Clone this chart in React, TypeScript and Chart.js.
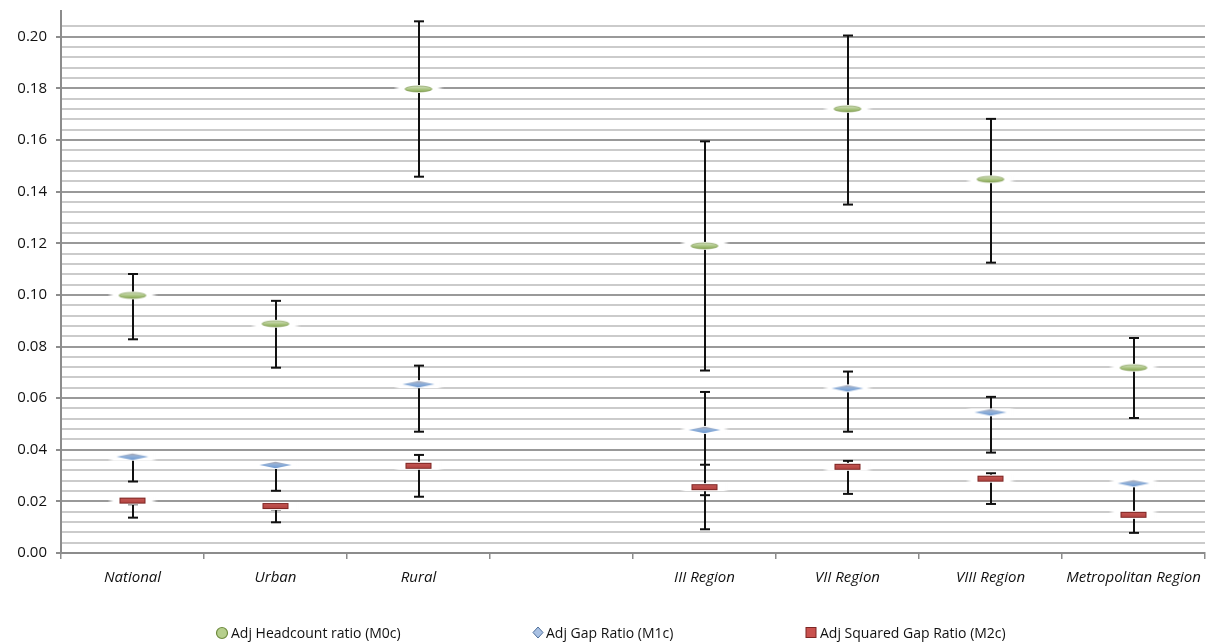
import React, { useEffect, useRef } from "react";
import { Chart, registerables } from "chart.js";

Chart.register(...registerables);

const categories = ["National", "Urban", "Rural", "", "III Region", "VII Region", "VIII Region", "Metropolitan Region"];

const m0 = [0.0998, 0.0888, 0.1798, null, 0.119, 0.1721, 0.1448, 0.0718];
const m0Low = [0.0828, 0.0718, 0.1458, null, 0.0707, 0.135, 0.1125, 0.0523];
const m0High = [0.1081, 0.0977, 0.206, null, 0.1595, 0.2005, 0.1682, 0.0833];

const m1 = [0.0373, 0.0341, 0.0654, null, 0.0477, 0.0638, 0.0545, 0.027];
const m1Low = [0.0277, 0.0241, 0.047, null, 0.0224, 0.047, 0.0389, 0.0148];
const m1High = [0.0373, 0.0341, 0.0726, null, 0.0624, 0.0703, 0.0605, 0.027];

const m2 = [0.0203, 0.0182, 0.0338, null, 0.0255, 0.0334, 0.0288, 0.0148];
const m2Low = [0.0137, 0.0119, 0.0218, null, 0.0092, 0.0229, 0.019, 0.0078];
const m2High = [0.0189, 0.0169, 0.038, null, 0.0342, 0.0357, 0.0309, 0.0148];

const seriesNames = ["Adj Headcount ratio (M0c)", "Adj Gap Ratio (M1c)", "Adj Squared Gap Ratio (M2c)"];

const FONT = "'Open Sans', 'DejaVu Sans', sans-serif";

function makeMarker(kind: string): HTMLCanvasElement {
  const c = document.createElement("canvas");
  const w = 50;
  const h = 12;
  c.width = w;
  c.height = h;
  const ctx = c.getContext("2d")!;
  const cx = w / 2;
  const cy = h / 2;
  const hg = ctx.createLinearGradient(0, 0, w, 0);
  hg.addColorStop(0, "rgba(255,255,255,0)");
  hg.addColorStop(0.12, "rgba(255,255,255,1)");
  hg.addColorStop(0.88, "rgba(255,255,255,1)");
  hg.addColorStop(1, "rgba(255,255,255,0)");
  ctx.fillStyle = hg;
  ctx.fillRect(0, cy - 4, w, 8);
  if (kind === "green") {
    ctx.beginPath();
    ctx.ellipse(cx, cy, 13.5, 3, 0, 0, Math.PI * 2);
    const g = ctx.createLinearGradient(0, cy - 3, 0, cy + 3);
    g.addColorStop(0, "#d4dfc2");
    g.addColorStop(0.5, "#adc785");
    g.addColorStop(1, "#86a552");
    ctx.fillStyle = g;
    ctx.fill();
    ctx.strokeStyle = "rgba(110,140,60,0.7)";
    ctx.lineWidth = 0.8;
    ctx.stroke();
  } else if (kind === "blue") {
    ctx.beginPath();
    ctx.moveTo(cx - 16, cy);
    ctx.lineTo(cx, cy - 3.2);
    ctx.lineTo(cx + 16, cy);
    ctx.lineTo(cx, cy + 3.2);
    ctx.closePath();
    const g = ctx.createLinearGradient(0, cy - 3, 0, cy + 3);
    g.addColorStop(0, "#a9a9b4");
    g.addColorStop(0.45, "#8fb0da");
    g.addColorStop(1, "#6e98cf");
    ctx.fillStyle = g;
    ctx.fill();
  } else {
    const g = ctx.createLinearGradient(0, cy - 3, 0, cy + 3);
    g.addColorStop(0, "#c65a57");
    g.addColorStop(1, "#b0403d");
    ctx.fillStyle = g;
    ctx.fillRect(cx - 13, cy - 3, 26, 6);
    ctx.strokeStyle = "#7d2624";
    ctx.lineWidth = 1;
    ctx.strokeRect(cx - 12.5, cy - 2.5, 25, 5);
  }
  return c;
}

const errorBarsPlugin = {
  id: "errorBars",
  beforeDatasetsDraw(chart: any) {
    const ctx = chart.ctx;
    const xs = chart.scales.x;
    const ys = chart.scales.y;
    const groups = [
      [m0, m0Low, m0High],
      [m1, m1Low, m1High],
      [m2, m2Low, m2High],
    ];
    ctx.save();
    ctx.strokeStyle = "#111111";
    ctx.lineWidth = 2;
    groups.forEach(([vals, lows, highs]) => {
      vals.forEach((v: any, i: number) => {
        if (v == null) return;
        const x = Math.round(xs.getPixelForValue(i));
        const lo = lows[i] as number;
        const hi = highs[i] as number;
        const top = ys.getPixelForValue(Math.max(hi, v));
        const bot = ys.getPixelForValue(Math.min(lo, v));
        ctx.beginPath();
        ctx.moveTo(x, top);
        ctx.lineTo(x, bot);
        ctx.stroke();
        [lo, hi].forEach((e) => {
          const y = ys.getPixelForValue(e);
          ctx.beginPath();
          ctx.moveTo(x - 5, y);
          ctx.lineTo(x + 5, y);
          ctx.stroke();
        });
      });
    });
    ctx.restore();
  },
};

function isMult(v: number, step: number) {
  const r = v / step;
  return Math.abs(r - Math.round(r)) < 1e-6;
}

export default function App() {
  const ref = useRef<HTMLCanvasElement>(null);
  useEffect(() => {
    const canvas = ref.current!;
    const markers = [makeMarker("green"), makeMarker("blue"), makeMarker("red")];
    const dataArrays = [m0, m1, m2];
    const chart = new Chart(canvas, {
      type: "line",
      data: {
        labels: categories,
        datasets: dataArrays.map((d, k) => ({
          label: seriesNames[k],
          data: d,
          showLine: false,
          pointStyle: markers[k],
          pointRadius: 6,
          pointHoverRadius: 6,
        })),
      },
      options: {
        responsive: false,
        animation: false,
        layout: { padding: { top: 11, right: 3, left: 0, bottom: 0 } },
        plugins: { legend: { display: false }, tooltip: { enabled: false } },
        scales: {
          x: {
            type: "category",
            offset: true,
            grid: {
              offset: true,
              drawOnChartArea: false,
              drawTicks: true,
              tickLength: 6,
              color: "#8c8c8c",
              lineWidth: 1.5,
            },
            border: { color: "#8c8c8c", width: 2 },
            ticks: {
              font: { family: FONT, size: 15, style: "italic" },
              color: "#111",
              padding: 10,
              maxRotation: 0,
              autoSkip: false,
            },
            afterFit: (s: any) => {
              s.height = 91;
              s.paddingLeft = 0;
              s.paddingRight = 0;
            },
          },
          y: {
            min: 0,
            max: 0.21,
            ticks: {
              stepSize: 0.004,
              autoSkip: false,
              padding: 9,
              color: "#111",
              font: { family: FONT, size: 15 },
              callback: (v: any) => (isMult(Number(v), 0.02) ? Number(v).toFixed(2) : ""),
            },
            grid: {
              lineWidth: 2,
              tickLength: 5,
              color: (c: any) => {
                const v = c.tick ? c.tick.value : 0;
                if (!isMult(v, 0.004)) return "rgba(0,0,0,0)";
                return isMult(v, 0.02) ? "#999999" : "#cbcbcb";
              },
              tickColor: (c: any) => {
                const v = c.tick ? c.tick.value : 0;
                return isMult(v, 0.02) ? "#8c8c8c" : "rgba(0,0,0,0)";
              },
            },
            border: { color: "#8c8c8c", width: 2 },
            afterFit: (s: any) => {
              s.width = 61;
              s.paddingTop = 0;
              s.paddingBottom = 0;
            },
          },
        },
      },
      plugins: [errorBarsPlugin],
    } as any);
    return () => chart.destroy();
  }, []);

  const legendText: React.CSSProperties = {
    position: "absolute",
    top: 623,
    fontFamily: FONT,
    fontSize: 14,
    color: "#111",
    whiteSpace: "nowrap",
    lineHeight: "20px",
  };

  return (
    <div style={{ position: "absolute", left: 0, top: 0, width: 1212, height: 644, background: "#fff" }}>
      <canvas ref={ref} width={1212} height={644} style={{ width: 1212, height: 644, display: "block" }} />
      <svg width={1212} height={644} style={{ position: "absolute", left: 0, top: 0, pointerEvents: "none" }}>
        <circle cx={222} cy={633} r={5.5} fill="#b6cf8c" stroke="#6f8c3f" strokeWidth={1.2} />
        <polygon points="538,627 543,632.5 538,638 533,632.5" fill="#a9c1e3" stroke="#4f6f9a" strokeWidth={1} />
        <rect x={806} y={627.5} width={10} height={10} fill="#c9514e" stroke="#7d2624" strokeWidth={1} />
      </svg>
      <div style={{ ...legendText, left: 231 }}>{seriesNames[0]}</div>
      <div style={{ ...legendText, left: 546 }}>{seriesNames[1]}</div>
      <div style={{ ...legendText, left: 820 }}>{seriesNames[2]}</div>
    </div>
  );
}
